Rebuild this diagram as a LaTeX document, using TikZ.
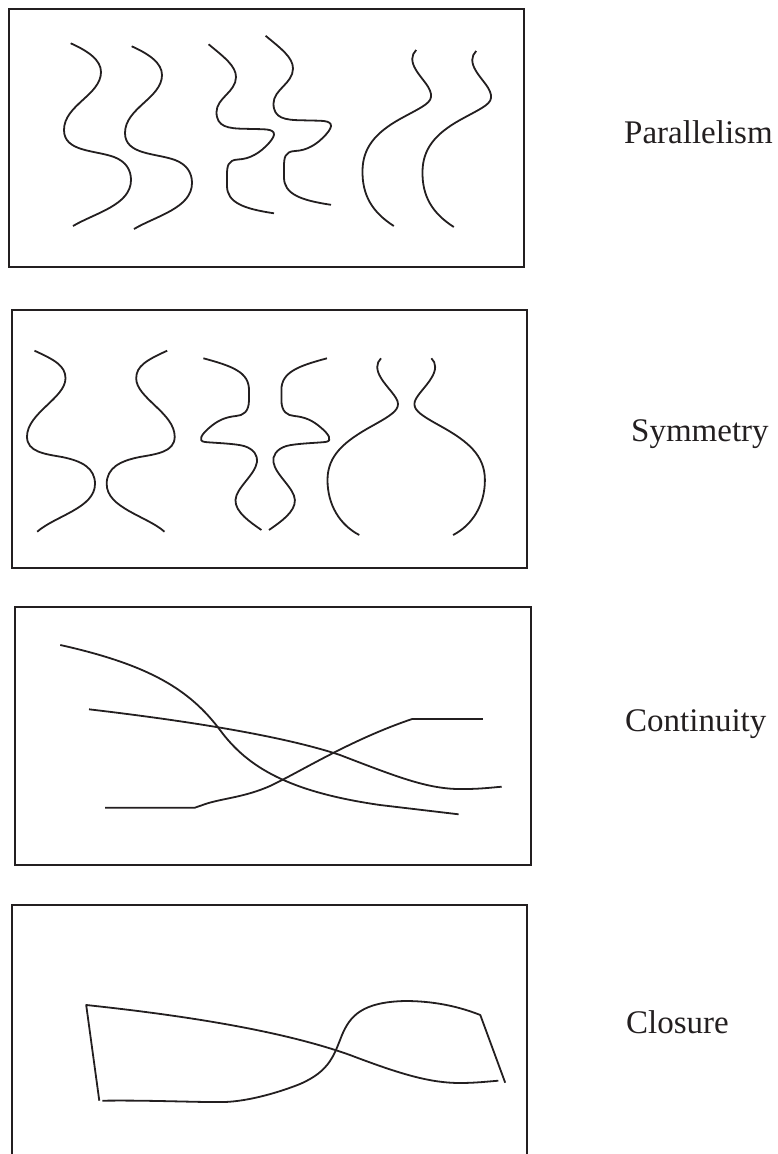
\documentclass[tikz,border=0pt]{standalone}
\usepackage{fontspec}
\setmainfont{Liberation Serif}
\usepackage{tikz}
\definecolor{ink}{HTML}{231F20}

\begin{document}
\begin{tikzpicture}[x=1pt,y=-1pt,
  frame/.style={draw=ink,line width=2pt},
  curve/.style={draw=ink,line width=1.8pt,line join=round},
  lbl/.style={font=\fontsize{33}{40}\selectfont,text=ink,anchor=base west,inner sep=0pt}]
  \useasboundingbox (0,0) rectangle (777,1154);
  % frames
  \draw[frame] (8.5,8.5) rectangle (524,266.5);
  \draw[frame] (11.7,310) rectangle (527,568);
  \draw[frame] (15,607) rectangle (530.7,865);
  \draw[frame] (11.7,1160) |- (527,905) -- (527,1160);
  % parallelism
  \foreach \dx/\dy in {0/0,61/3}{
    \draw[curve,shift={(\dx,\dy)}] (70.7,43.3) .. controls (88,51) and (101,60) .. (101,72)
      .. controls (101,95) and (64,105) .. (64,130) .. controls (64,152) and (95,150) .. (114,157)
      .. controls (126,161.5) and (131,170) .. (131,180) .. controls (131,205) and (95,213) .. (73,226);}
  \foreach \dx/\dy in {0/0,57/-8.5}{
    \draw[curve,shift={(\dx,\dy)}] (208.6,44.3) .. controls (224,57) and (236,66) .. (236,77)
      .. controls (236,92) and (216.5,98) .. (216.5,112) .. controls (216.5,127) and (228,128.5) .. (245,128.8)
      -- (262,129.2) .. controls (276,129.4) and (277,134) .. (269,143)
      .. controls (260,153) and (250,159) .. (238,159.5) .. controls (228,160) and (227,166) .. (227,175)
      -- (227,186) .. controls (227,203) and (245,209) .. (274,213.3);}
  \foreach \dx/\dy in {0/0,60/1}{
    \draw[curve,shift={(\dx,\dy)}] (416.2,50) .. controls (411,55) and (411,62) .. (416,70)
      .. controls (422,80) and (432,88) .. (431,97) .. controls (430,104) and (420,108) .. (400,119)
      .. controls (375,133) and (363,148) .. (362.5,170) .. controls (362,195) and (372,212) .. (393.8,226);}
  % symmetry
  \foreach \sa/\sb/\sc/\sx in {0/0/0/1,201.7/530.4/812.4/-1}{
    \draw[curve,shift={(\sa,0)},xscale=\sx] (34.5,350.7) .. controls (55,360) and (65.5,366) .. (65.5,378.3)
      .. controls (65.5,398) and (27,413) .. (27,436.7) .. controls (27,452) and (45,454) .. (62,457)
      .. controls (82,461) and (95,468) .. (95,484) .. controls (95,508) and (55,516) .. (37.2,531.7);
    \draw[curve,shift={(\sb,0)},xscale=\sx] (203.4,358.3) .. controls (232,366) and (249,372) .. (249,390)
      -- (249,400) .. controls (249,412) and (243,415.5) .. (236,416)
      .. controls (226,417) and (218,420) .. (209,428) .. controls (202,434) and (197,441) .. (205,442)
      .. controls (215,443) and (235,443.5) .. (244,446) .. controls (254,449) and (258,456) .. (257,462)
      .. controls (255,475) and (236,488) .. (235.5,500) .. controls (235,512) and (250,522) .. (261.4,530);
    \draw[curve,shift={(\sc,0)},xscale=\sx] (381,358.3) .. controls (376,363) and (376,370) .. (381,378)
      .. controls (387,388) and (398,397) .. (398,404) .. controls (398,411) and (390,416) .. (372,426)
      .. controls (345,441) and (327.5,455) .. (327.5,480) .. controls (327.5,505) and (340,525) .. (359.3,535);}
  % continuity
  \draw[curve] (60.3,645) .. controls (150,665) and (190,690) .. (220,730)
    .. controls (248,768) and (290,792) .. (380,805) -- (458.6,814.3);
  \draw[curve] (89,709.3) .. controls (180,720) and (280,735) .. (340,755)
    .. controls (400,778) and (430,790) .. (465,789) .. controls (480,789) and (492,787.5) .. (501.7,786.7);
  \draw[curve] (105.2,807.7) -- (194.8,807.7) -- (206.9,803.5) .. controls (225,798) and (245,797) .. (270,786)
    .. controls (300,772) and (350,740) .. (412.1,719) -- (482.8,719);
  % closure
  \draw[curve] (99.3,1100.7) -- (86.2,1005) .. controls (180,1015) and (280,1030) .. (350,1055)
    .. controls (400,1074) and (430,1083) .. (460,1083) .. controls (475,1083) and (488,1081.5) .. (498.3,1080.7);
  \draw[curve] (102.4,1100.7) .. controls (150,1100) and (200,1102.5) .. (225,1102)
    .. controls (250,1101) and (280,1092) .. (300,1084) .. controls (330,1071) and (334,1055) .. (342,1035)
    .. controls (350,1016) and (362,1002) .. (405,1001) .. controls (440,1001) and (465,1009) .. (480.3,1015)
    -- (505.2,1082.7);
  % labels
  \node[lbl] (par) at (624,143) {Parallelism};
  \node[lbl] (sym) at (631,441) {Symmetry};
  \node[lbl] (con) at (625,731) {Continuity};
  \node[lbl] (clo) at (626,1033) {Closure};
\end{tikzpicture}
\end{document}
